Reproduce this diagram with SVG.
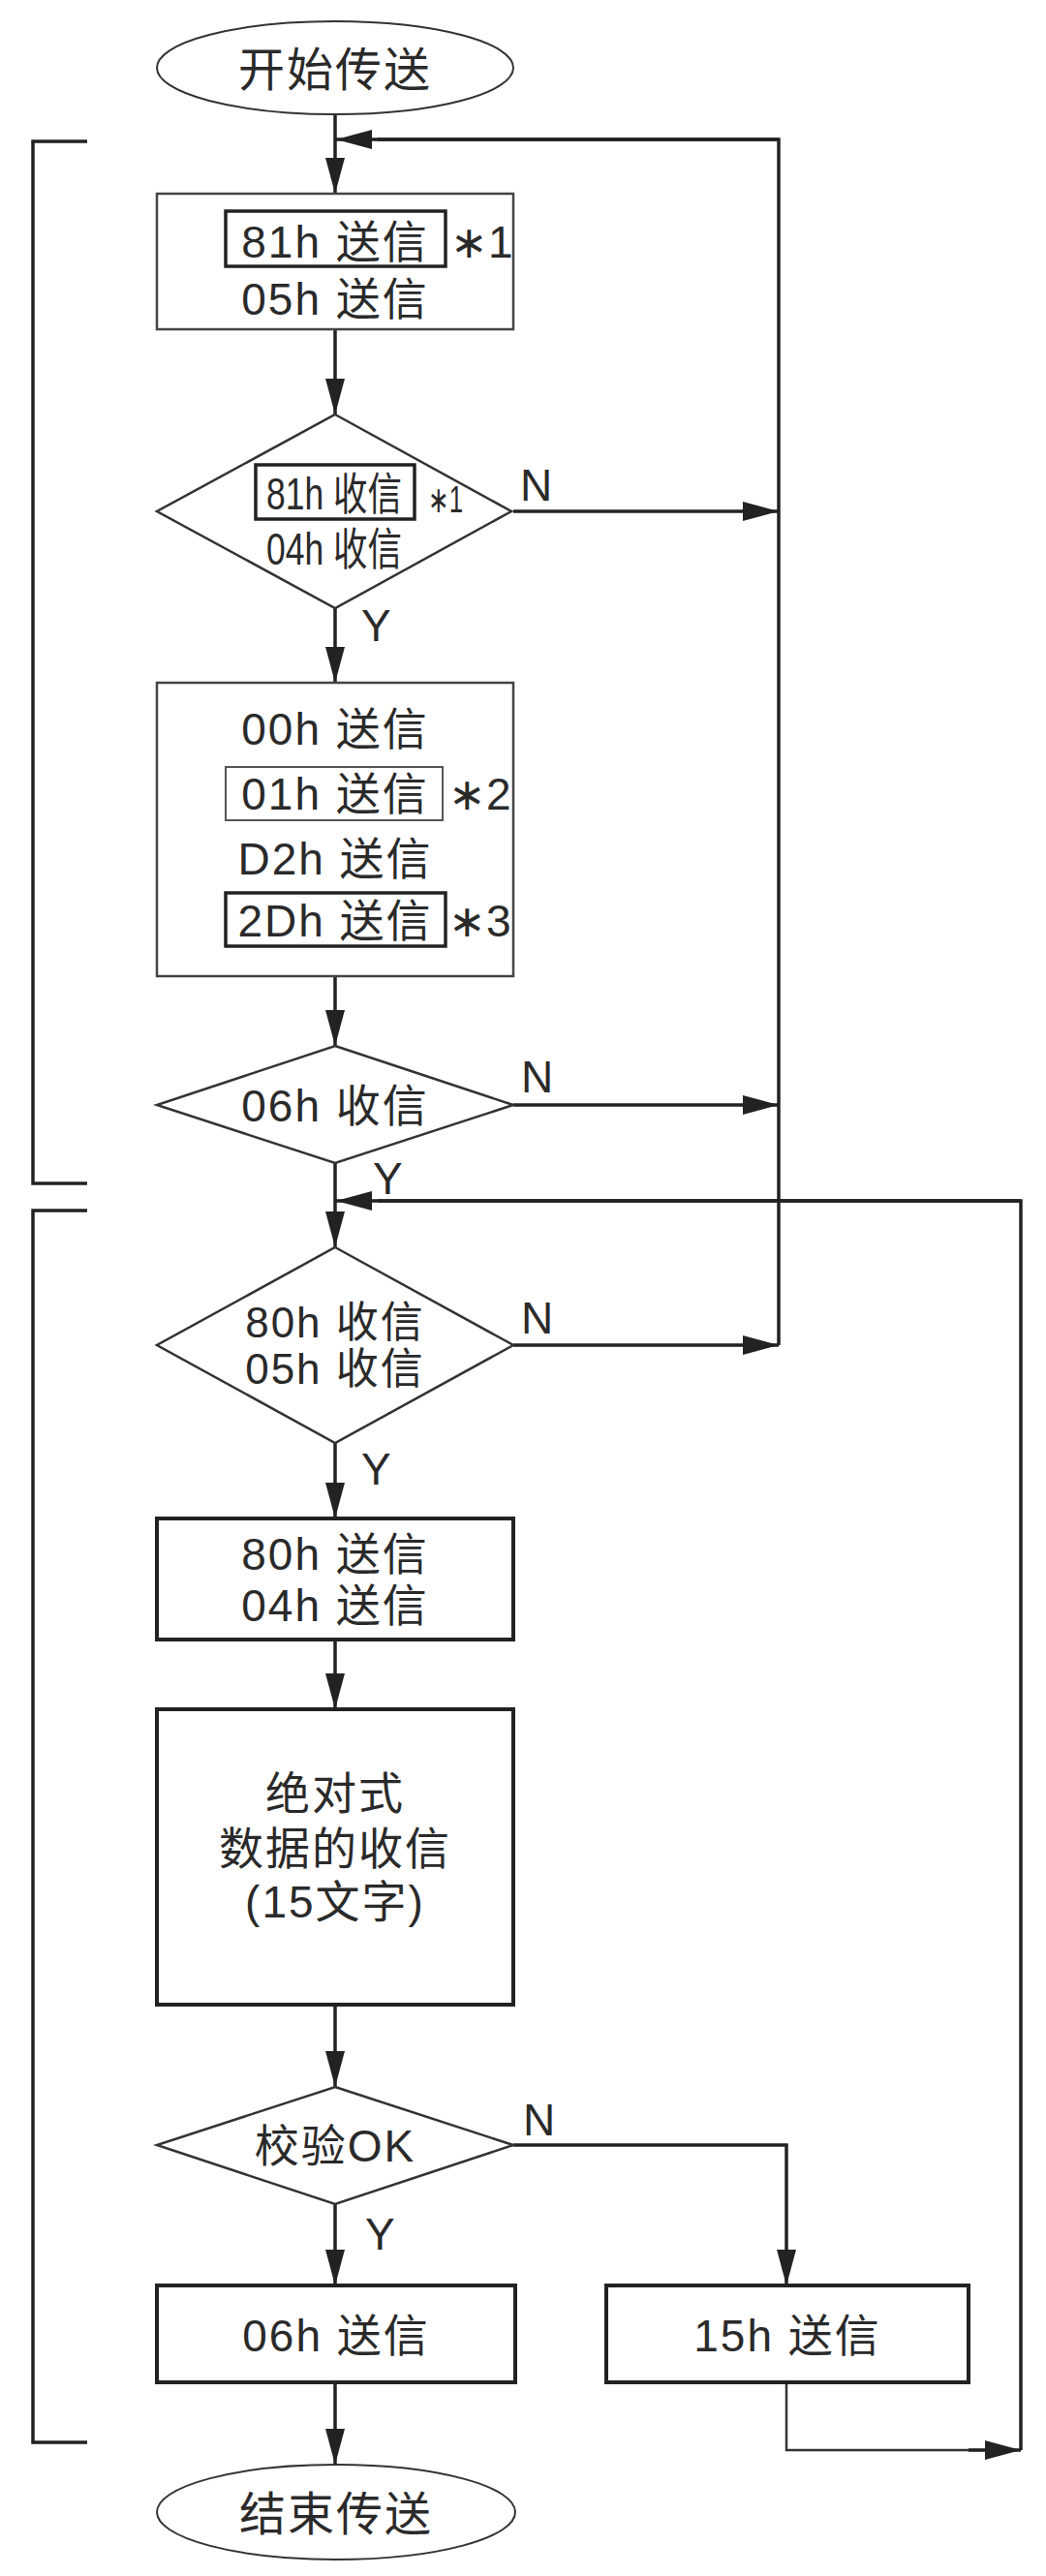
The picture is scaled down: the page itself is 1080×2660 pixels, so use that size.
<svg xmlns="http://www.w3.org/2000/svg" width="1080" height="2660" viewBox="0 0 1080 2660">
<defs>
<marker id="ah" markerUnits="userSpaceOnUse" markerWidth="38" markerHeight="20" refX="37" refY="10" orient="auto">
<path d="M0,0 L37,10 L0,20 Z" fill="#222"/>
</marker>
<style>
.t{font-family:"Liberation Sans","Noto Sans CJK SC",sans-serif;font-size:46px;fill:#2a2a2a;text-anchor:middle;letter-spacing:2px}
.s{text-anchor:start;letter-spacing:0}
.n{letter-spacing:0}
.lab{font-family:"Liberation Sans","Noto Sans CJK SC",sans-serif;font-size:46px;fill:#2a2a2a}
.thin{fill:#fff;stroke:#444;stroke-width:2.5}
.bold{fill:#fff;stroke:#222;stroke-width:4}
.dia{fill:#fff;stroke:#333;stroke-width:2.5}
.ell{fill:#fff;stroke:#333;stroke-width:2}
.ib{fill:none;stroke:#222;stroke-width:3.5}
.ibt{fill:none;stroke:#555;stroke-width:2}
.c{fill:none;stroke:#222;stroke-width:3.5}
.ca{fill:none;stroke:#222;stroke-width:3.5;marker-end:url(#ah)}
.cth{fill:none;stroke:#333;stroke-width:2.5}
.br{fill:none;stroke:#222;stroke-width:3.5}
</style>
</defs>
<rect width="1080" height="2660" fill="#fff"/>

<g id="brackets">
<polyline class="br" points="90,146 34,146 34,1222 90,1222"/>
<polyline class="br" points="90,1250 34,1250 34,2522 90,2522"/>
</g>

<g id="connectors">
<line class="ca" x1="346" y1="118" x2="346" y2="200"/>
<polyline class="c" points="804,1389 804,144 390,144"/>
<line class="ca" x1="804" y1="144" x2="347" y2="144"/>
<line class="ca" x1="346" y1="340" x2="346" y2="428"/>
<line class="ca" x1="530" y1="528" x2="804" y2="528"/>
<line class="ca" x1="346" y1="628" x2="346" y2="705"/>
<line class="ca" x1="346" y1="1008" x2="346" y2="1080"/>
<line class="ca" x1="530" y1="1141" x2="804" y2="1141"/>
<line class="ca" x1="346" y1="1201" x2="346" y2="1288"/>
<polyline class="c" points="1054,2530 1054,1240 390,1240"/>
<line class="ca" x1="1054" y1="1240" x2="347" y2="1240"/>
<line class="ca" x1="530" y1="1389" x2="804" y2="1389"/>
<line class="ca" x1="346" y1="1490" x2="346" y2="1568"/>
<line class="ca" x1="346" y1="1693" x2="346" y2="1765"/>
<line class="ca" x1="346" y1="2070" x2="346" y2="2155"/>
<polyline class="ca" points="530,2215 812,2215 812,2360"/>
<line class="ca" x1="346" y1="2276" x2="346" y2="2360"/>
<polyline class="cth" points="812,2460 812,2530 1020,2530"/>
<line class="ca" x1="1000" y1="2530" x2="1054" y2="2530"/>
<line class="ca" x1="346" y1="2460" x2="346" y2="2545"/>
<text class="lab" x="537" y="517">N</text>
<text class="lab" x="373" y="662">Y</text>
<text class="lab" x="538" y="1128">N</text>
<text class="lab" x="385" y="1233">Y</text>
<text class="lab" x="538" y="1377">N</text>
<text class="lab" x="373" y="1533">Y</text>
<text class="lab" x="540" y="2205">N</text>
<text class="lab" x="377" y="2323">Y</text>
</g>

<g id="start">
<ellipse class="ell" cx="346" cy="70" rx="184" ry="48"/>
<text class="t" x="346" y="89" style="font-size:48px">开始传送</text>
</g>

<g id="box1">
<rect class="thin" x="162" y="200" width="368" height="140"/>
<rect class="ib" x="233" y="218" width="227" height="57"/>
<text class="t" x="346" y="266">81h 送信</text>
<text class="t s" x="465" y="266">∗1</text>
<text class="t" x="346" y="325">05h 送信</text>
</g>

<g id="dec1">
<polygon class="dia" points="346,428 528,528 346,628 162,528"/>
<rect class="ib" x="264" y="480" width="164" height="56"/>
<text class="t n" x="345" y="526" textLength="140" lengthAdjust="spacingAndGlyphs">81h 收信</text>
<text class="t s" x="442" y="529" style="font-size:38px" textLength="36" lengthAdjust="spacingAndGlyphs">∗1</text>
<text class="t n" x="345" y="583" textLength="140" lengthAdjust="spacingAndGlyphs">04h 收信</text>
</g>

<g id="box2">
<rect class="thin" x="162" y="705" width="368" height="303"/>
<text class="t" x="346" y="769">00h 送信</text>
<rect class="ibt" x="233" y="792" width="224" height="55"/>
<text class="t" x="346" y="836">01h 送信</text>
<text class="t s" x="463" y="836">∗2</text>
<text class="t" x="346" y="903">D2h 送信</text>
<rect class="ib" x="233" y="922" width="227" height="55"/>
<text class="t" x="346" y="967">2Dh 送信</text>
<text class="t s" x="463" y="967">∗3</text>
</g>

<g id="dec2">
<polygon class="dia" points="346,1080 530,1141 346,1201 162,1141"/>
<text class="t" x="346" y="1158">06h 收信</text>
</g>

<g id="dec3">
<polygon class="dia" points="346,1288 530,1389 346,1490 162,1389"/>
<text class="t" x="346" y="1381" style="font-size:44px">80h 收信</text>
<text class="t" x="346" y="1429" style="font-size:44px">05h 收信</text>
</g>

<g id="box3">
<rect class="bold" x="162" y="1568" width="368" height="125"/>
<text class="t" x="346" y="1621">80h 送信</text>
<text class="t" x="346" y="1674">04h 送信</text>
</g>

<g id="box4">
<rect class="bold" x="162" y="1765" width="368" height="305"/>
<text class="t" x="346" y="1868">绝对式</text>
<text class="t" x="346" y="1925">数据的收信</text>
<text class="t" x="346" y="1980">(15文字)</text>
</g>

<g id="dec4">
<polygon class="dia" points="346,2155 530,2215 346,2276 162,2215"/>
<text class="t" x="346" y="2232">校验OK</text>
</g>

<g id="box6">
<rect class="bold" x="162" y="2360" width="370" height="100"/>
<text class="t" x="347" y="2428">06h 送信</text>
</g>

<g id="box5">
<rect class="bold" x="626" y="2360" width="374" height="100"/>
<text class="t" x="813" y="2428">15h 送信</text>
</g>

<g id="end">
<ellipse class="ell" cx="347" cy="2594" rx="185" ry="49"/>
<text class="t" x="347" y="2613" style="font-size:48px">结束传送</text>
</g>
</svg>
